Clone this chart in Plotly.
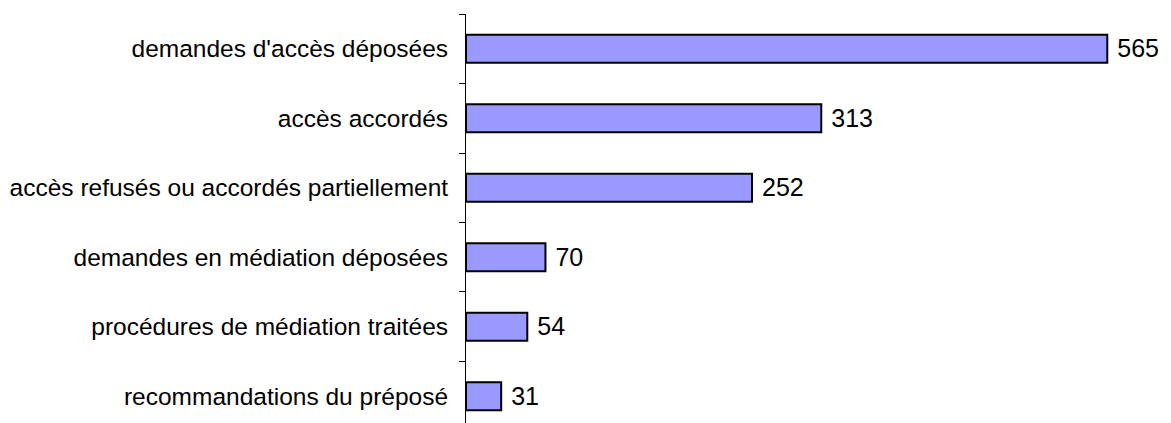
import plotly.graph_objects as go

categories = [
    "recommandations du préposé",
    "procédures de médiation traitées",
    "demandes en médiation déposées",
    "accès refusés ou accordés partiellement",
    "accès accordés",
    "demandes d'accès déposées",
]
values = [31, 54, 70, 252, 313, 565]

fig = go.Figure(
    go.Bar(
        x=values,
        y=categories,
        orientation="h",
        width=0.4,
        marker=dict(color="#9999FF", line=dict(color="black", width=2)),
        text=[f" {v}" for v in values],
        textposition="outside",
        textfont=dict(family="Liberation Sans, Arial", size=27, color="black"),
        cliponaxis=False,
    )
)

fig.update_layout(
    width=1171,
    height=423,
    margin=dict(l=466, r=24, t=14, b=0, pad=0),
    plot_bgcolor="white",
    paper_bgcolor="white",
    showlegend=False,
    font=dict(family="Liberation Sans, Arial", size=24.5, color="black"),
    bargap=0.6,
)
fig.update_xaxes(range=[0, 600], visible=False, showgrid=False, zeroline=False)
fig.update_yaxes(
    type="category",
    range=[-0.385, 5.5],
    showline=True,
    linecolor="black",
    linewidth=1,
    ticks="outside",
    ticklen=6,
    tickcolor="black",
    tickson="boundaries",
    ticklabelstandoff=12,
    showgrid=False,
    zeroline=False,
)

fig.write_html("out.html")
